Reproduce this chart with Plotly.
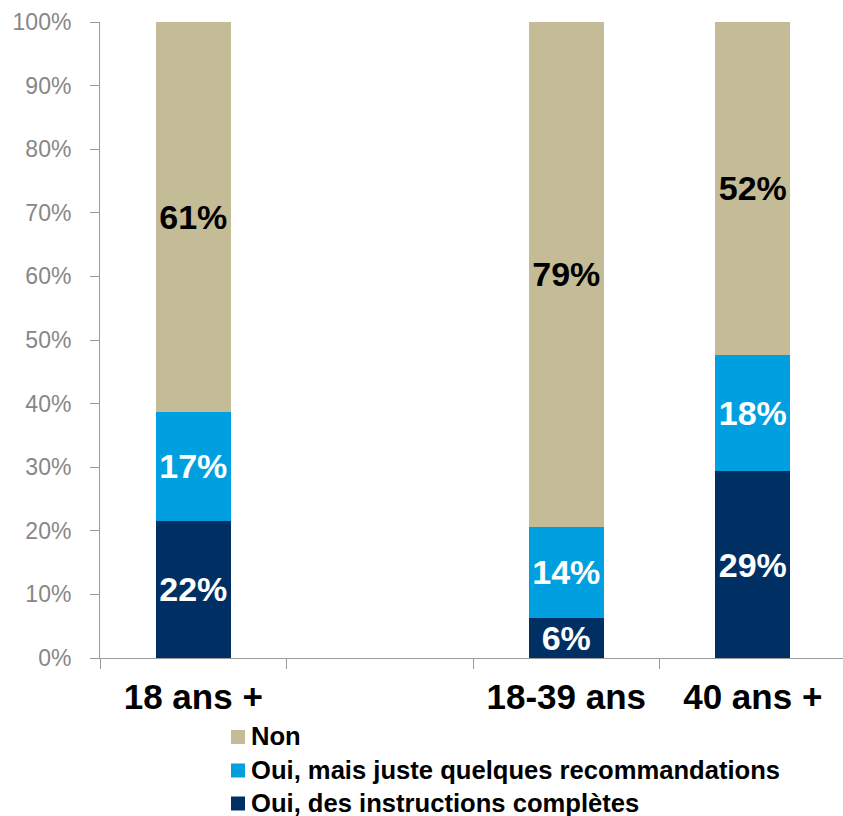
import plotly.graph_objects as go

# Age groups (the blank slot keeps the gap between the first bar and the others)
categories = ["18 ans +", " ", "18-39 ans", "40 ans +"]

# Shares per answer, in percent (None = no bar in the blank slot)
oui_complet = [21.6, None, 6.3, 29.4]
oui_reco = [17.1, None, 14.3, 18.3]
non = [61.3, None, 79.4, 52.3]

series_names = [
    "Oui, des instructions complètes",
    "Oui, mais juste quelques recommandations",
    "Non",
]
series_values = [oui_complet, oui_reco, non]
series_colors = ["#003063", "#009FE0", "#C4BC96"]
label_colors = ["white", "white", "black"]

y_ticks = list(range(0, 101, 10))

FONT = "Liberation Sans, Arial, sans-serif"
W, H = 843, 816
M_L, M_R, M_T, M_B = 100, 0, 22, 158
PW, PH = W - M_L - M_R, H - M_T - M_B
SLOT = 186.5  # pixel width of one category slot


def px_x(px):
    return (px - M_L) / PW


def px_y(py):
    return (H - M_B - py) / PH


fig = go.Figure()
for name, vals, col, tcol in zip(series_names, series_values, series_colors, label_colors):
    fig.add_trace(
        go.Bar(
            x=categories,
            y=vals,
            name=name,
            marker=dict(color=col, line=dict(width=0)),
            width=0.4,
            text=[None if v is None else f"{round(v)}%" for v in vals],
            textposition="inside",
            insidetextanchor="middle",
            textangle=0,
            textfont=dict(family=FONT, size=34, color=tcol, weight="bold"),
            constraintext="none",
            showlegend=False,
            hoverinfo="skip",
        )
    )

# Legend drawn as colour swatches with labels, top entry first
legend_rows = [("Non", "#C4BC96", 737), ("Oui, mais juste quelques recommandations", "#009FE0", 770.5),
               ("Oui, des instructions complètes", "#003063", 803.5)]
shapes = []
annotations = []
for text, col, cy in legend_rows:
    shapes.append(dict(type="rect", xref="paper", yref="paper",
                       x0=px_x(231), x1=px_x(245), y0=px_y(cy + 7), y1=px_y(cy - 7),
                       fillcolor=col, line=dict(width=0)))
    annotations.append(dict(xref="paper", yref="paper", x=px_x(249), y=px_y(cy - 1),
                            xanchor="left", yanchor="middle", showarrow=False, text=text,
                            font=dict(family=FONT, size=25.6, color="black", weight="bold")))

fig.update_layout(
    barmode="stack",
    width=W,
    height=H,
    margin=dict(l=M_L, r=M_R, t=M_T, b=M_B, pad=0),
    plot_bgcolor="white",
    paper_bgcolor="white",
    uniformtext=dict(minsize=34, mode="show"),
    shapes=shapes,
    annotations=annotations,
    xaxis=dict(
        type="category",
        categoryorder="array",
        categoryarray=categories,
        range=[-0.5, -0.5 + PW / SLOT],
        tickson="boundaries",
        ticks="outside",
        ticklen=10,
        tickcolor="#9a9a9a",
        showline=True,
        linecolor="#9a9a9a",
        linewidth=1,
        showgrid=False,
        tickfont=dict(family=FONT, size=35, color="black", weight="bold"),
        ticklabelstandoff=8,
    ),
    yaxis=dict(
        range=[0, 100],
        tickvals=y_ticks,
        ticktext=[f"{v}%" for v in y_ticks],
        ticks="outside",
        ticklen=9,
        tickcolor="#9a9a9a",
        showline=True,
        linecolor="#9a9a9a",
        linewidth=1,
        showgrid=False,
        zeroline=False,
        tickfont=dict(family=FONT, size=23, color="#878787"),
        ticklabelstandoff=14,
    ),
)

fig.write_html("out.html")
